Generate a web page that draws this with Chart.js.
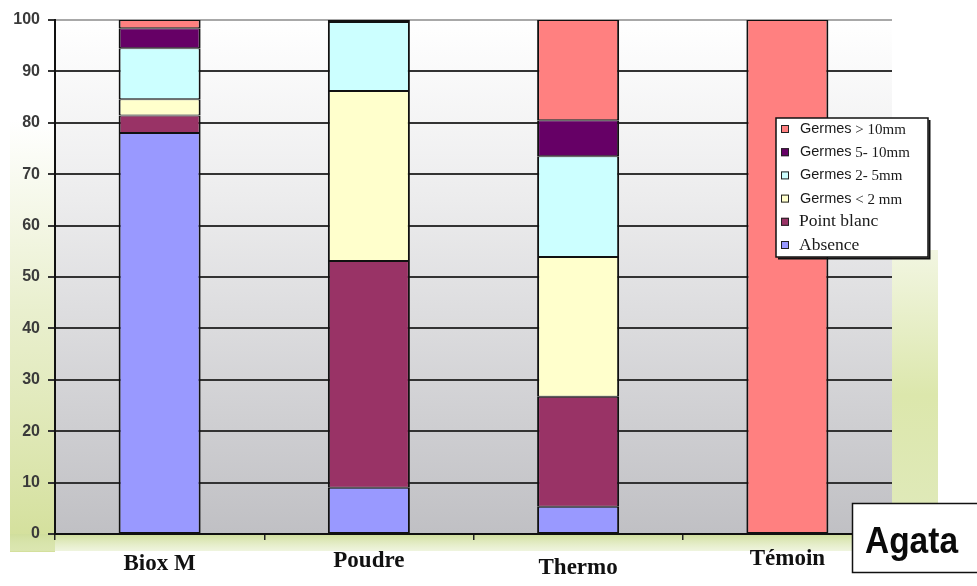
<!DOCTYPE html>
<html>
<head>
<meta charset="utf-8">
<script src="https://cdn.jsdelivr.net/npm/chart.js@4/dist/chart.umd.min.js"></script>
<style>
  html, body { margin: 0; padding: 0; background: #ffffff; }
  #wrap { width: 977px; height: 586px; position: relative; }
</style>
</head>
<body>
<div id="wrap"><canvas id="c" width="977" height="586"></canvas></div>
<script>
// Traitements (catégories) et répartition en % par classe de germination
const categories = ['Biox M', 'Poudre', 'Thermo', 'Témoin'];
const absence      = [78.0,  9.0,  5.3,   0];
const pointBlanc   = [ 3.4, 44.1, 21.4,   0];
const germesMoins2 = [ 3.2, 33.1, 27.2,   0];
const germes2a5    = [ 9.9, 13.4, 19.6,   0];
const germes5a10   = [ 3.9,  0.4,  7.0,   0];
const germesPlus10 = [ 1.6,  0.0, 19.5, 100];

const seriesLabels = ['Absence', 'Point blanc', 'Germes < 2 mm', 'Germes 2- 5mm', 'Germes 5- 10mm', 'Germes > 10mm'];
const seriesValues = [absence, pointBlanc, germesMoins2, germes2a5, germes5a10, germesPlus10];
const seriesColors = ['#9999ff', '#993366', '#ffffcc', '#ccffff', '#660066', '#ff8080'];

const yTickValues = [0, 10, 20, 30, 40, 50, 60, 70, 80, 90, 100];
const varietyName = 'Agata';

// Décalage vertical (px sous l'axe) de la ligne de base de chaque étiquette de catégorie
const categoryLabelDrop = [36, 33, 40, 31];

// Fond : lavis vert autour du graphique et dégradé gris dans la zone de tracé
const backgroundPlugin = {
  id: 'background',
  beforeDraw(chart) {
    const { ctx, chartArea: a } = chart;
    ctx.save();
    ctx.fillStyle = '#ffffff';
    ctx.fillRect(0, 0, chart.width, chart.height);

    // bande gauche
    let g = ctx.createLinearGradient(0, 120, 0, 540);
    g.addColorStop(0, 'rgba(226,234,190,0)');
    g.addColorStop(0.45, 'rgba(226,234,190,0.75)');
    g.addColorStop(1, 'rgba(212,224,156,1)');
    ctx.fillStyle = g;
    ctx.fillRect(10, 120, a.left - 10, 432);

    // bande droite
    g = ctx.createLinearGradient(0, 250, 0, 540);
    g.addColorStop(0, 'rgba(222,232,180,0.4)');
    g.addColorStop(0.5, 'rgba(220,231,172,1)');
    g.addColorStop(1, 'rgba(224,234,188,1)');
    ctx.fillStyle = g;
    ctx.fillRect(a.right, 250, 46, a.bottom - 250 + 2);

    // bande basse
    g = ctx.createLinearGradient(0, a.bottom, 0, a.bottom + 18);
    g.addColorStop(0, 'rgba(208,222,156,1)');
    g.addColorStop(1, 'rgba(226,236,196,0.5)');
    ctx.fillStyle = g;
    ctx.fillRect(10, a.bottom, a.right + 46 - 10, 17);

    // zone de tracé
    g = ctx.createLinearGradient(0, a.top, 0, a.bottom);
    g.addColorStop(0, '#ffffff');
    g.addColorStop(0.35, '#ececed');
    g.addColorStop(1, '#c0c0c4');
    ctx.fillStyle = g;
    ctx.fillRect(a.left, a.top, a.right - a.left, a.bottom - a.top);
    ctx.restore();
  }
};

// Étiquettes des catégories, placées sous chaque barre via l'échelle x
const categoryLabelPlugin = {
  id: 'categoryLabels',
  afterDraw(chart) {
    const { ctx, chartArea: a } = chart;
    const xs = chart.scales.x;
    ctx.save();
    ctx.font = 'bold 23px "Liberation Serif", "Times New Roman", serif';
    ctx.fillStyle = '#111111';
    ctx.textAlign = 'center';
    ctx.textBaseline = 'alphabetic';
    chart.data.labels.forEach((lab, i) => {
      ctx.fillText(lab, xs.getPixelForTick(i), a.bottom + categoryLabelDrop[i]);
    });
    ctx.restore();
  }
};

// Légende encadrée, ordre inverse des séries
const boxLegendPlugin = {
  id: 'boxLegend',
  afterDraw(chart) {
    const { ctx } = chart;
    const x0 = 776, y0 = 118, x1 = 928, y1 = 257;
    ctx.save();
    ctx.fillStyle = '#ffffff';
    ctx.fillRect(x0, y0, x1 - x0, y1 - y0);
    ctx.strokeStyle = '#111111';
    ctx.lineWidth = 1.5;
    ctx.strokeRect(x0, y0, x1 - x0, y1 - y0);
    ctx.lineWidth = 2;
    ctx.beginPath();
    ctx.moveTo(x1 + 1.5, y0 + 2);
    ctx.lineTo(x1 + 1.5, y1 + 1.5);
    ctx.lineTo(x0 + 2, y1 + 1.5);
    ctx.stroke();

    const ds = chart.data.datasets;
    ctx.textBaseline = 'middle';
    ctx.textAlign = 'left';
    for (let r = 0; r < ds.length; r++) {
      const d = ds[ds.length - 1 - r];
      const cy = 129 + r * 23.2;
      ctx.fillStyle = d.backgroundColor;
      ctx.fillRect(781, cy - 4, 8, 8);
      ctx.strokeStyle = '#222222';
      ctx.lineWidth = 1;
      ctx.strokeRect(781.5, cy - 3.5, 7, 7);

      ctx.fillStyle = '#1a1a1a';
      const label = d.label;
      if (label.startsWith('Germes')) {
        ctx.font = '14.5px "Liberation Sans", Arial, sans-serif';
        ctx.fillText('Germes', 800, cy);
        const w = ctx.measureText('Germes').width;
        ctx.font = '15px "Liberation Serif", "Times New Roman", serif';
        ctx.fillText(label.slice(6), 800 + w, cy + 1);
      } else {
        ctx.font = '17.5px "Liberation Serif", "Times New Roman", serif';
        ctx.fillText(label, 799, cy);
      }
    }
    ctx.restore();
  }
};

// Cartouche du nom de variété
const varietyPlugin = {
  id: 'variety',
  afterDraw(chart) {
    const { ctx } = chart;
    ctx.save();
    ctx.fillStyle = '#ffffff';
    ctx.fillRect(852, 503, 130, 70);
    ctx.strokeStyle = '#111111';
    ctx.lineWidth = 1.5;
    ctx.strokeRect(852.5, 503.5, 130, 69);
    ctx.font = 'bold 36px "Liberation Sans", Arial, sans-serif';
    ctx.fillStyle = '#0a0a0a';
    ctx.textBaseline = 'alphabetic';
    const w = ctx.measureText(varietyName).width;
    const target = 93;
    ctx.translate(865, 553);
    ctx.scale(target / w, 1);
    ctx.fillText(varietyName, 0, 0);
    ctx.restore();
  }
};

const datasets = seriesLabels.map((label, i) => ({
  label,
  data: seriesValues[i],
  backgroundColor: seriesColors[i],
  borderColor: '#111111',
  borderWidth: { top: 1, bottom: 1, left: 2, right: 2 },
  borderSkipped: false,
  categoryPercentage: 1.0,
  barPercentage: 0.392
}));

new Chart(document.getElementById('c'), {
  type: 'bar',
  data: { labels: categories, datasets },
  plugins: [backgroundPlugin, categoryLabelPlugin, boxLegendPlugin, varietyPlugin],
  options: {
    responsive: false,
    animation: false,
    layout: { padding: { top: 20, right: 85, left: 0, bottom: 0 } },
    plugins: { legend: { display: false }, tooltip: { enabled: false } },
    scales: {
      x: {
        stacked: true,
        afterFit(scale) { scale.height = 52; },
        grid: {
          offset: true,
          drawOnChartArea: false,
          drawTicks: true,
          tickLength: 6,
          color: '#222222',
          lineWidth: 1.5
        },
        border: { display: true, color: '#111111', width: 2 },
        ticks: { display: false }
      },
      y: {
        stacked: true,
        min: 0,
        max: 100,
        afterFit(scale) { scale.width = 55; },
        afterBuildTicks(scale) { scale.ticks = yTickValues.map(v => ({ value: v })); },
        grid: {
          color: (c) => (c.tick && c.tick.value === 100 ? '#a8a8a8' : '#333333'),
          tickColor: '#333333',
          lineWidth: 2,
          drawTicks: true,
          tickLength: 7
        },
        border: { display: true, color: '#111111', width: 2 },
        ticks: {
          padding: 8,
          color: '#3a3a3a',
          font: { family: '"Liberation Sans", Arial, sans-serif', size: 16, weight: 'bold' }
        }
      }
    }
  }
});
</script>
</body>
</html>
